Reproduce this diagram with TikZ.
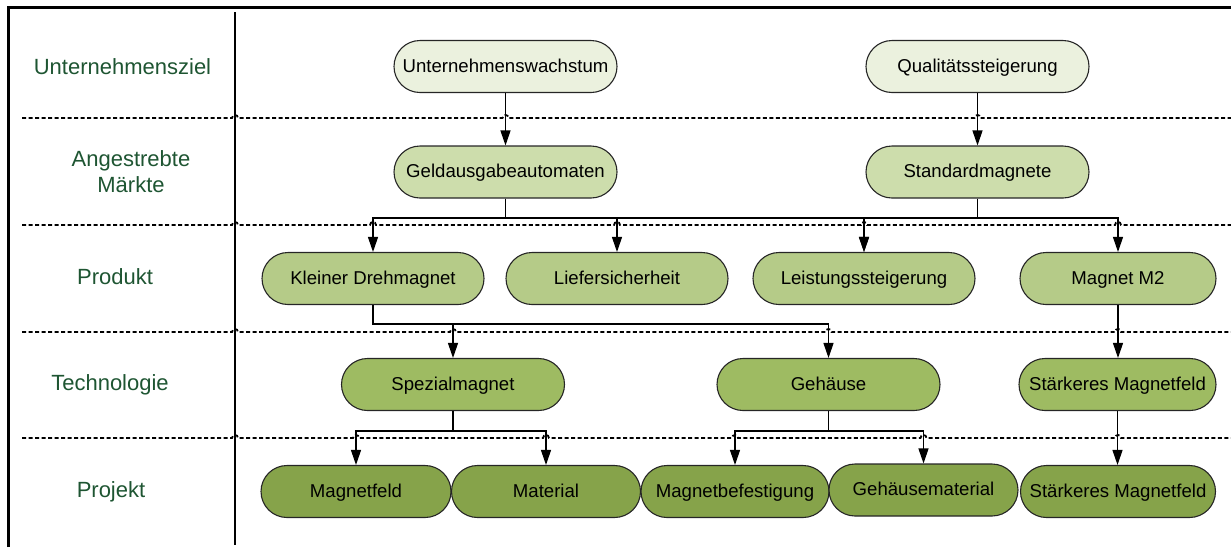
\documentclass[tikz,border=0pt]{standalone}
\usepackage{fontspec}
\setmainfont{Liberation Sans}
\usetikzlibrary{arrows.meta}
\definecolor{lvlA}{HTML}{EBF1DE}
\definecolor{lvlB}{HTML}{CDDDAC}
\definecolor{lvlC}{HTML}{B5CB88}
\definecolor{lvlD}{HTML}{9EBB62}
\definecolor{lvlE}{HTML}{86A34A}
\definecolor{lanetext}{RGB}{30,85,50}
\begin{document}
\begin{tikzpicture}[x=1pt,y=-1pt,
  box/.style={rectangle, rounded corners=26pt, draw=black!85, line width=1.1pt,
    minimum height=52pt, inner sep=0pt, text height=15pt, text depth=3.4pt,
    font=\fontsize{18.6}{22}\selectfont, text=black},
  conn/.style={line width=1.2pt, draw=black},
  arr/.style={conn, -{Triangle[length=15pt,width=10pt]}},
  lane/.style={line width=1.8pt, dash pattern=on 4pt off 2.5pt},
  lanelabel/.style={font=\fontsize{22}{26}\selectfont, text=lanetext, align=center}]
\useasboundingbox (0,0) rectangle (1231,547);

% frame and lane separator
\draw[line width=3pt] (8.5,547) -- (8.5,7) -- (1231,7);
\draw[line width=2pt] (235,12) -- (235,545);

% dashed lane borders, hopping over the vertical lines
\draw[lane] (22,118) \foreach \x in {235,505.5,977.5} { -- (\x-3,118) .. controls (\x-3,114) and (\x+3,114) .. (\x+3,118) } -- (1231,118);
\draw[lane] (22,225) \foreach \x in {235,373,617,864,1118} { -- (\x-3,225) .. controls (\x-3,221) and (\x+3,221) .. (\x+3,225) } -- (1231,225);
\draw[lane] (22,332) \foreach \x in {235,453,828.5,1118} { -- (\x-3,332) .. controls (\x-3,328) and (\x+3,328) .. (\x+3,332) } -- (1231,332);
\draw[lane] (22,438) \foreach \x in {235,356,546,735,923.5,1118} { -- (\x-3,438) .. controls (\x-3,434) and (\x+3,434) .. (\x+3,438) } -- (1231,438);

% lane labels
\node[lanelabel] (lz) at (122.5,67) {Unternehmensziel};
\node[lanelabel] (lm) at (131,172) {Angestrebte\\Märkte};
\node[lanelabel] (lp) at (115,277) {Produkt};
\node[lanelabel] (lt) at (110,385) {Technologie};
\node[lanelabel] (lj) at (111,492) {Projekt};

% goals
\node[box, fill=lvlA, minimum width=223pt] (r1a) at (505.5,66.5) {Unternehmenswachstum};
\node[box, fill=lvlA, minimum width=223pt] (r1b) at (977.5,66.5) {Qualitätssteigerung};
% markets
\node[box, fill=lvlB, minimum width=223pt] (r2a) at (505.5,172) {Geldausgabeautomaten};
\node[box, fill=lvlB, minimum width=223pt] (r2b) at (977.5,172) {Standardmagnete};
% products
\node[box, fill=lvlC, minimum width=222pt] (r3a) at (373,278.5) {Kleiner Drehmagnet};
\node[box, fill=lvlC, minimum width=222pt] (r3b) at (617,278.5) {Liefersicherheit};
\node[box, fill=lvlC, minimum width=222pt] (r3c) at (864,278.5) {Leistungssteigerung};
\node[box, fill=lvlC, minimum width=196pt] (r3d) at (1118,278.5) {Magnet M2};
% technologies
\node[box, fill=lvlD, minimum width=223pt] (r4a) at (453,384.5) {Spezialmagnet};
\node[box, fill=lvlD, minimum width=223pt] (r4b) at (828.5,384.5) {Gehäuse};
\node[box, fill=lvlD, minimum width=197pt] (r4c) at (1117.5,384.5) {Stärkeres Magnetfeld};
% projects
\node[box, fill=lvlE, minimum width=190pt] (r5a) at (356,491.5) {Magnetfeld};
\node[box, fill=lvlE, minimum width=189pt] (r5b) at (546,491.5) {Material};
\node[box, fill=lvlE, minimum width=188pt] (r5c) at (735,491.5) {Magnetbefestigung};
\node[box, fill=lvlE, minimum width=189pt] (r5d) at (923.5,490) {Gehäusematerial};
\node[box, fill=lvlE, minimum width=195pt] (r5e) at (1118,491.5) {Stärkeres Magnetfeld};

% bus heights
\coordinate (busA) at (0,218);
\coordinate (busB) at (0,324);
\coordinate (busC) at (0,431);

% connectors
\draw[arr] (r1a) -- (r2a);
\draw[arr] (r1b) -- (r2b);
\draw[arr] (r2a.south) -- (r2a.south |- busA) -| (r3a.north);
\draw[arr] (r2a.south) -- (r2a.south |- busA) -| (r3b.north);
\draw[arr] (r2a.south) -- (r2a.south |- busA) -| (r3c.north);
\draw[arr] (r2b.south) -- (r2b.south |- busA) -| (r3c.north);
\draw[arr] (r2b.south) -- (r2b.south |- busA) -| (r3d.north);
\draw[arr] (r3a.south) -- (r3a.south |- busB) -| (r4a.north);
\draw[arr] (r3a.south) -- (r3a.south |- busB) -| (r4b.north);
\draw[arr] (r3d.south) -- (r3d.south |- r4c.north);
\draw[arr] (r4a.south) -- (r4a.south |- busC) -| (r5a.north);
\draw[arr] (r4a.south) -- (r4a.south |- busC) -| (r5b.north);
\draw[arr] (r4b.south) -- (r4b.south |- busC) -| (r5c.north);
\draw[arr] (r4b.south) -- (r4b.south |- busC) -| (r5d.north);
\draw[arr] (r4c.south) -- (r4c.south |- r5e.north);
\end{tikzpicture}
\end{document}
